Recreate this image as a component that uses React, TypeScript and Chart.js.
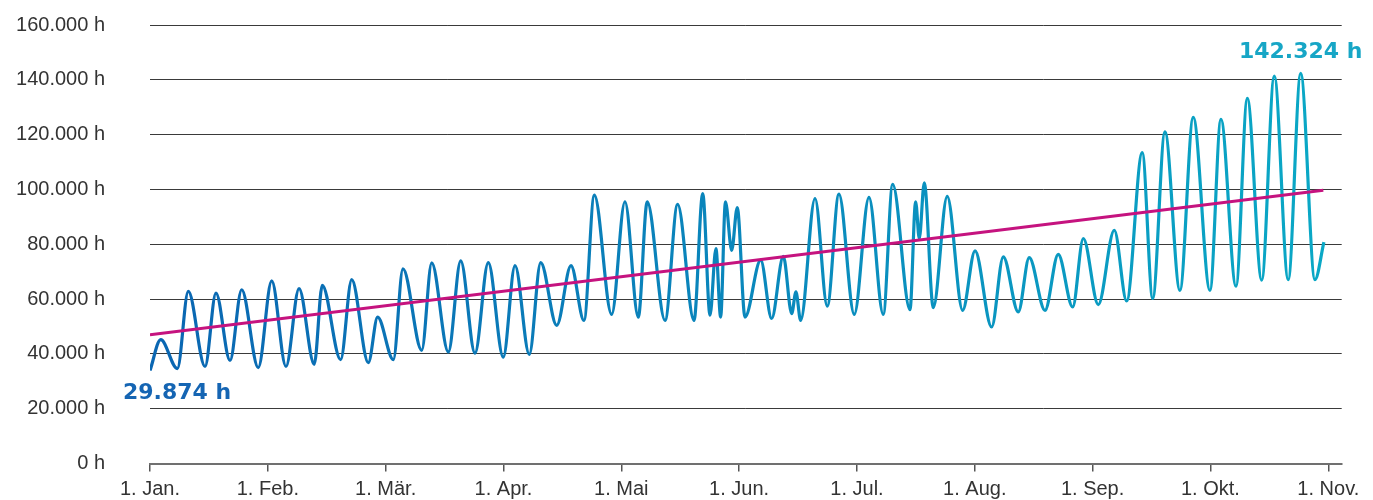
import React, { useEffect, useRef } from "react";
import { Chart, registerables } from "chart.js";

Chart.register(...registerables);

// X axis: fractional month index (0 = 1. Jan., 1 = 1. Feb., ...)
const MONTH_LABELS = [
  "1. Jan.", "1. Feb.", "1. Mär.", "1. Apr.", "1. Mai", "1. Jun.",
  "1. Jul.", "1. Aug.", "1. Sep.", "1. Okt.", "1. Nov.",
];

const Y_MAX = 160000;
const Y_STEP = 20000;

// Series: weekly oscillating hours (extrema)
const POSITIONS = [
  0, 0.091, 0.232, 0.325, 0.467, 0.56, 0.679, 0.778, 0.919, 1.033,
  1.154, 1.265, 1.394, 1.462, 1.618, 1.712, 1.853, 1.932, 2.065, 2.147,
  2.306, 2.391, 2.532, 2.637, 2.758, 2.871, 2.998, 3.098, 3.219, 3.316,
  3.452, 3.573, 3.683, 3.771, 3.918, 4.031, 4.144, 4.22, 4.371, 4.478,
  4.617, 4.691, 4.753, 4.803, 4.843, 4.884, 4.937, 4.984, 5.05, 5.183,
  5.276, 5.375, 5.446, 5.482, 5.522, 5.644, 5.748, 5.847, 5.977, 6.102,
  6.223, 6.303, 6.45, 6.498, 6.529, 6.571, 6.648, 6.766, 6.897, 7.002,
  7.143, 7.242, 7.369, 7.462, 7.596, 7.708, 7.831, 7.921, 8.048, 8.184,
  8.289, 8.421, 8.51, 8.614, 8.741, 8.854, 8.996, 9.089, 9.217, 9.313,
  9.435, 9.542, 9.66, 9.766, 9.887, 9.963,
];

const HOURS = [
  33900, 45200, 34600, 62800, 35400, 62200, 37600, 63400, 35000, 66600,
  35400, 63800, 36200, 65000, 37900, 67100, 36800, 53400, 37900, 71000,
  41300, 73200, 40700, 73900, 40300, 73300, 38800, 72200, 39800, 73300,
  50400, 72200, 52200, 97900, 54400, 95500, 53400, 95500, 52200, 94600,
  52200, 98500, 54100, 78400, 53400, 95500, 77800, 93400, 53400, 74200,
  52900, 75600, 54700, 62600, 52200, 96700, 57400, 98300, 54400, 97100,
  54400, 101900, 56100, 95500, 82100, 102400, 56900, 97500, 55900, 77600,
  49800, 75400, 55300, 75100, 55900, 76300, 57100, 82100, 58000, 85100,
  59300, 113400, 60200, 121000, 63200, 126300, 63200, 125600, 64700, 133200,
  66900, 141400, 67100, 142324, 67100, 80800,
];

// Linear trend
const TREND_POSITIONS = [0, 9.958];
const TREND_HOURS = [47000, 99700];

const START_LABEL = "29.874 h";
const PEAK_LABEL = "142.324 h";

const fmt = (v: number) =>
  String(Math.round(v)).replace(/\B(?=(\d{3})+(?!\d))/g, ".") + " h";

const labelPlugin = {
  id: "endLabels",
  afterDatasetsDraw(chart: any) {
    const meta = chart.getDatasetMeta(1);
    if (!meta || !meta.data.length) return;
    const ctx = chart.ctx;
    const first = meta.data[0];
    let peakIdx = 0;
    HOURS.forEach((v, i) => {
      if (v > HOURS[peakIdx]) peakIdx = i;
    });
    const peak = meta.data[peakIdx];
    ctx.save();
    ctx.font = "bold 22px 'DejaVu Sans'";
    ctx.textBaseline = "alphabetic";
    ctx.fillStyle = "#1565b3";
    ctx.textAlign = "left";
    ctx.fillText(START_LABEL, first.x - 27, first.y + 28);
    ctx.fillStyle = "#17a6c6";
    ctx.textAlign = "center";
    ctx.fillText(PEAK_LABEL, peak.x, peak.y - 15);
    ctx.restore();
  },
};

export default function App() {
  const canvasRef = useRef<HTMLCanvasElement | null>(null);

  useEffect(() => {
    if (!canvasRef.current) return;
    const mainData = POSITIONS.map((x, i) => ({ x, y: HOURS[i] }));
    const trendData = TREND_POSITIONS.map((x, i) => ({ x, y: TREND_HOURS[i] }));

    const chart = new Chart(canvasRef.current, {
      type: "line",
      data: {
        datasets: [
          {
            label: "Trend",
            data: trendData,
            borderColor: "#c5137f",
            borderWidth: 3,
            pointRadius: 0,
            tension: 0,
            fill: false,
          },
          {
            label: "Stunden",
            data: mainData,
            borderColor: (c: any) => {
              const area = c.chart.chartArea;
              if (!area) return "#0a80bb";
              const g = c.chart.ctx.createLinearGradient(area.left, 0, area.right, 0);
              g.addColorStop(0, "#0a66b2");
              g.addColorStop(1, "#0aa9c6");
              return g;
            },
            borderWidth: 3.2,
            pointRadius: 0,
            cubicInterpolationMode: "monotone",
            fill: false,
          },
        ],
      },
      options: {
        animation: false,
        responsive: true,
        maintainAspectRatio: false,
        layout: { padding: { top: 25, right: 31.3, bottom: 0, left: 0 } },
        plugins: {
          legend: { display: false },
          tooltip: { enabled: false },
        },
        scales: {
          x: {
            type: "linear",
            min: 0,
            max: 10.114,
            afterBuildTicks: (scale: any) => {
              scale.ticks = MONTH_LABELS.map((_, i) => ({ value: i }));
            },
            afterFit: (scale: any) => {
              scale.height = 36.5;
              scale.paddingLeft = 0;
              scale.paddingRight = 0;
            },
            ticks: {
              autoSkip: false,
              maxRotation: 0,
              padding: 6,
              color: "#333",
              font: { family: "'Liberation Sans'", size: 20 },
              callback: (v: any) => MONTH_LABELS[Math.round(Number(v))] ?? "",
            },
            grid: {
              drawOnChartArea: false,
              drawTicks: true,
              tickLength: 8,
              color: "#555",
              lineWidth: 1.5,
            },
            border: { display: true, color: "#707070", width: 2 },
          },
          y: {
            min: 0,
            max: Y_MAX,
            afterFit: (scale: any) => {
              scale.width = 150;
              scale.paddingTop = 0;
              scale.paddingBottom = 0;
            },
            ticks: {
              stepSize: Y_STEP,
              padding: 45,
              color: "#333",
              font: { family: "'Liberation Sans'", size: 20 },
              callback: (v: any) => fmt(Number(v)),
            },
            grid: {
              drawTicks: false,
              color: "#3a3a3a",
              lineWidth: 1,
            },
            border: { display: false },
          },
        },
      },
      plugins: [labelPlugin],
    } as any);

    return () => chart.destroy();
  }, []);

  return (
    <div style={{ position: "fixed", left: 0, top: 0, width: 1373, height: 500 }}>
      <canvas ref={canvasRef} />
    </div>
  );
}
